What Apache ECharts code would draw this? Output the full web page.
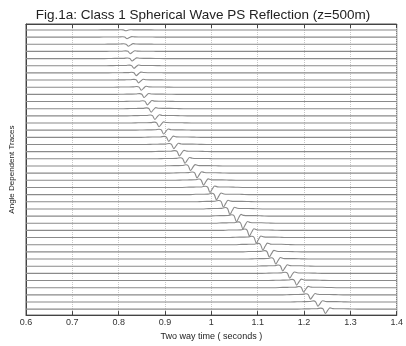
<!DOCTYPE html>
<html>
<head>
<meta charset="utf-8">
<script src="https://cdn.jsdelivr.net/npm/echarts@6/dist/echarts.min.js"></script>
<style>
  html, body { margin: 0; padding: 0; background: #fff; }
  #chart { width: 406px; height: 346px; }
</style>
</head>
<body>
<div id="chart"></div>
<script>
// arrival time (s) of the reflection on each trace, top to bottom
const arrivalTimes = [
  0.815, 0.818, 0.821, 0.825, 0.829, 0.833, 0.838, 0.843, 0.849, 0.855,
  0.862, 0.870, 0.878, 0.887, 0.897, 0.908, 0.919, 0.931, 0.943, 0.955,
  0.969, 0.983, 0.997, 1.011, 1.026, 1.040, 1.054, 1.068, 1.082, 1.097,
  1.111, 1.125, 1.139, 1.154, 1.169, 1.184, 1.199, 1.214, 1.230, 1.246,
]
// peak amplitude of each trace, in trace spacings
const amplitudes = [
  0.12, 0.22, 0.28, 0.32, 0.34, 0.36, 0.38, 0.40, 0.42, 0.44,
  0.46, 0.48, 0.50, 0.52, 0.54, 0.56, 0.58, 0.60, 0.62, 0.64,
  0.66, 0.68, 0.70, 0.72, 0.74, 0.76, 0.78, 0.78, 0.77, 0.76,
  0.74, 0.72, 0.70, 0.68, 0.66, 0.64, 0.62, 0.60, 0.60, 0.60,
]
// wavelet as seen on the traces: time offset (s) and normalised value
const waveletOffsets = [-0.06, -0.045, -0.03, -0.018, -0.01, -0.005, 0, 0.005, 0.01, 0.016, 0.025, 0.04, 0.055, 0.07]
const waveletValues = [0, 0.06, 0.08, 0.1, 0.25, 0.05, -1, -0.3, 0.3, 0.12, 0.08, 0.08, 0.04, 0]

const timeTicks = [0.6, 0.7, 0.8, 0.9, 1.0, 1.1, 1.2, 1.3, 1.4]

const chart = echarts.init(document.getElementById('chart'))

const series = arrivalTimes.map((t0, i) => {
  const level = i + 1
  const pts = [[timeTicks[0], level]]
  waveletOffsets.forEach((dt, j) => {
    pts.push([t0 + dt, level - amplitudes[i] * waveletValues[j]])
  })
  pts.push([timeTicks[timeTicks.length - 1], level])
  return {
    type: 'line',
    data: pts,
    showSymbol: false,
    smooth: 0.3,
    lineStyle: { color: '#8a8a8a', width: 1.1 },
    silent: true,
  }
})

chart.setOption({
  animation: false,
  title: {
    text: 'Fig.1a: Class 1 Spherical Wave PS Reflection (z=500m)',
    left: 'center',
    top: 3,
    textStyle: { fontFamily: 'Liberation Sans', fontSize: 13.5, fontWeight: 'normal', color: '#222' },
  },
  grid: {
    left: 24, right: 4, top: 24, bottom: 28,
    show: true, borderColor: '#555', borderWidth: 1,
  },
  xAxis: [
    {
      type: 'value',
      min: 0.6, max: 1.4, interval: 0.1,
      name: 'Two way time ( seconds )',
      nameLocation: 'middle',
      nameGap: 15,
      nameTextStyle: { fontFamily: 'Liberation Sans', fontSize: 9, color: '#222' },
      axisLine: { show: true, onZero: false, lineStyle: { color: '#444' } },
      axisTick: { show: true, inside: true, length: 4, lineStyle: { color: '#444' } },
      axisLabel: {
        fontFamily: 'Liberation Sans', fontSize: 9, color: '#333', margin: 3,
        formatter: (v) => String(Math.round(v * 10) / 10),
      },
      splitLine: { show: true, lineStyle: { color: '#c8c8c8', type: 'dotted' } },
    },
    {
      type: 'value', position: 'top',
      min: 0.6, max: 1.4, interval: 0.1,
      axisLine: { show: true, lineStyle: { color: '#444' } },
      axisTick: { show: true, inside: true, length: 4, lineStyle: { color: '#444' } },
      axisLabel: { show: false },
      splitLine: { show: false },
    },
  ],
  yAxis: {
    type: 'value',
    inverse: true,
    min: 0.17, max: 40.83,
    name: 'Angle Dependent Traces',
    nameLocation: 'middle',
    nameGap: 10,
    nameTextStyle: { fontFamily: 'Liberation Sans', fontSize: 8, color: '#222' },
    axisLine: { show: true, lineStyle: { color: '#444' } },
    axisTick: { show: false },
    axisLabel: { show: false },
    splitLine: { show: false },
  },
  series,
})
</script>
</body>
</html>
